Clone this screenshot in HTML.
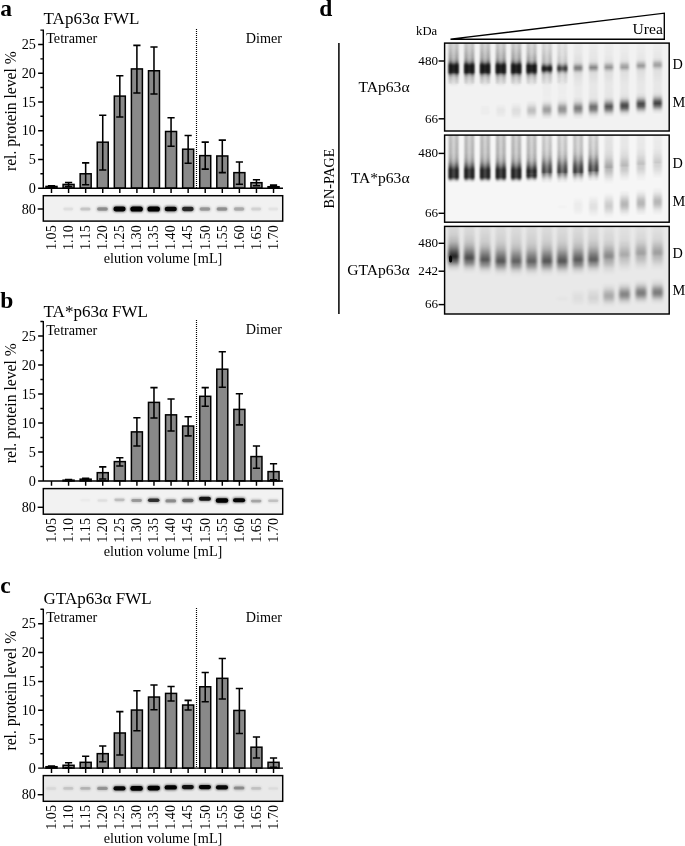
<!DOCTYPE html>
<html><head><meta charset="utf-8"><title>figure</title>
<style>html,body{margin:0;padding:0;background:#fff;overflow:hidden;}svg{display:block;will-change:transform;opacity:0.999;}text{font-family:"Liberation Serif",serif;fill:#000;}</style>
</head><body>
<svg width="685" height="846" viewBox="0 0 685 846">
<defs>
<filter id="bl1" x="-50%" y="-100%" width="200%" height="300%"><feGaussianBlur stdDeviation="0.7"/></filter>
<filter id="bl2" x="-50%" y="-100%" width="200%" height="300%"><feGaussianBlur stdDeviation="1.3"/></filter>
<filter id="bl3" x="-50%" y="-100%" width="200%" height="300%"><feGaussianBlur stdDeviation="1.9"/></filter>
<filter id="lane" x="-50%" y="-5%" width="200%" height="110%"><feGaussianBlur stdDeviation="1.25 0.6"/></filter>
<filter id="lane3" x="-50%" y="-5%" width="200%" height="110%"><feGaussianBlur stdDeviation="1.7 0.8"/></filter>
<filter id="edge" x="-150%" y="-5%" width="400%" height="110%"><feGaussianBlur stdDeviation="0.9 0.6"/></filter>
<linearGradient id="smearUp" x1="0" y1="0" x2="0" y2="1"><stop offset="0" stop-color="#000" stop-opacity="0.25"/><stop offset="0.55" stop-color="#000" stop-opacity="0.5"/><stop offset="1" stop-color="#000" stop-opacity="1"/></linearGradient>
<linearGradient id="smearDn" x1="0" y1="0" x2="0" y2="1"><stop offset="0" stop-color="#000" stop-opacity="1"/><stop offset="0.5" stop-color="#000" stop-opacity="0.5"/><stop offset="1" stop-color="#000" stop-opacity="0"/></linearGradient>
</defs>
<rect width="685" height="846" fill="#fff"/>
<text x="0.3" y="15.5" font-size="23.5" font-weight="bold">a</text>
<text x="43.6" y="23.9" font-size="17">TAp63α FWL</text>
<text x="46.2" y="43.1" font-size="14.2">Tetramer</text>
<text x="282" y="42.9" font-size="14.2" text-anchor="end">Dimer</text>
<text transform="translate(15.6,111.1) rotate(-90)" font-size="15.65" text-anchor="middle">rel. protein level %</text>
<line x1="196.5" y1="29" x2="196.5" y2="188.2" stroke="#000" stroke-width="1.15" stroke-dasharray="1 1"/>
<rect x="46.00" y="186.43" width="11.00" height="1.72" fill="#898989" stroke="#000" stroke-width="1.5"/>
<path d="M51.50 185.74V187.12M47.90 185.74H55.10M47.90 187.12H55.10" stroke="#000" stroke-width="1.55" fill="none"/>
<rect x="63.08" y="184.42" width="11.00" height="3.73" fill="#898989" stroke="#000" stroke-width="1.5"/>
<path d="M68.58 182.40V186.43M64.98 182.40H72.18M64.98 186.43H72.18" stroke="#000" stroke-width="1.55" fill="none"/>
<rect x="80.16" y="173.78" width="11.00" height="14.37" fill="#898989" stroke="#000" stroke-width="1.5"/>
<path d="M85.66 162.87V184.70M82.06 162.87H89.26M82.06 184.70H89.26" stroke="#000" stroke-width="1.55" fill="none"/>
<rect x="97.24" y="142.18" width="11.00" height="45.97" fill="#898989" stroke="#000" stroke-width="1.5"/>
<path d="M102.74 115.18V170.05M99.14 115.18H106.34M99.14 170.05H106.34" stroke="#000" stroke-width="1.55" fill="none"/>
<rect x="114.32" y="96.10" width="11.00" height="92.05" fill="#898989" stroke="#000" stroke-width="1.5"/>
<path d="M119.82 75.70V117.07M116.22 75.70H123.42M116.22 117.07H123.42" stroke="#000" stroke-width="1.55" fill="none"/>
<rect x="131.40" y="68.92" width="11.00" height="119.23" fill="#898989" stroke="#000" stroke-width="1.5"/>
<path d="M136.90 45.36V93.05M133.30 45.36H140.50M133.30 93.05H140.50" stroke="#000" stroke-width="1.55" fill="none"/>
<rect x="148.48" y="70.76" width="11.00" height="117.39" fill="#898989" stroke="#000" stroke-width="1.5"/>
<path d="M153.98 46.91V94.03M150.38 46.91H157.58M150.38 94.03H157.58" stroke="#000" stroke-width="1.55" fill="none"/>
<rect x="165.56" y="131.49" width="11.00" height="56.66" fill="#898989" stroke="#000" stroke-width="1.5"/>
<path d="M171.06 117.70V146.15M167.46 117.70H174.66M167.46 146.15H174.66" stroke="#000" stroke-width="1.55" fill="none"/>
<rect x="182.64" y="149.19" width="11.00" height="38.96" fill="#898989" stroke="#000" stroke-width="1.5"/>
<path d="M188.14 135.40V163.27M184.54 135.40H191.74M184.54 163.27H191.74" stroke="#000" stroke-width="1.55" fill="none"/>
<rect x="199.72" y="155.63" width="11.00" height="32.52" fill="#898989" stroke="#000" stroke-width="1.5"/>
<path d="M205.22 142.12V169.13M201.62 142.12H208.82M201.62 169.13H208.82" stroke="#000" stroke-width="1.55" fill="none"/>
<rect x="216.80" y="155.97" width="11.00" height="32.18" fill="#898989" stroke="#000" stroke-width="1.5"/>
<path d="M222.30 140.11V172.64M218.70 140.11H225.90M218.70 172.64H225.90" stroke="#000" stroke-width="1.55" fill="none"/>
<rect x="233.88" y="172.64" width="11.00" height="15.51" fill="#898989" stroke="#000" stroke-width="1.5"/>
<path d="M239.38 162.01V184.30M235.78 162.01H242.98M235.78 184.30H242.98" stroke="#000" stroke-width="1.55" fill="none"/>
<rect x="250.96" y="182.69" width="11.00" height="5.46" fill="#898989" stroke="#000" stroke-width="1.5"/>
<path d="M256.46 179.70V185.74M252.86 179.70H260.06M252.86 185.74H260.06" stroke="#000" stroke-width="1.55" fill="none"/>
<rect x="268.04" y="186.71" width="11.00" height="1.44" fill="#898989" stroke="#000" stroke-width="1.5"/>
<path d="M273.54 185.10V187.69M269.94 185.10H277.14M269.94 187.69H277.14" stroke="#000" stroke-width="1.55" fill="none"/>
<path d="M43.3 29.58V188.15M42.70 188.15H283.0M38.10 188.15H43.3M40.40 173.78H43.3M38.10 159.42H43.3M40.40 145.06H43.3M38.10 130.69H43.3M40.40 116.33H43.3M38.10 101.96H43.3M40.40 87.59H43.3M38.10 73.23H43.3M40.40 58.87H43.3M38.10 44.50H43.3M40.40 30.13H43.3M51.50 188.15V193.05M68.58 188.15V193.05M85.66 188.15V193.05M102.74 188.15V193.05M119.82 188.15V193.05M136.90 188.15V193.05M153.98 188.15V193.05M171.06 188.15V193.05M188.14 188.15V193.05M205.22 188.15V193.05M222.30 188.15V193.05M239.38 188.15V193.05M256.46 188.15V193.05M273.54 188.15V193.05" stroke="#000" stroke-width="1.45" fill="none"/>
<text x="35.9" y="192.8" font-size="14.2" text-anchor="end">0</text>
<text x="35.9" y="164.1" font-size="14.2" text-anchor="end">5</text>
<text x="35.9" y="135.4" font-size="14.2" text-anchor="end">10</text>
<text x="35.9" y="106.7" font-size="14.2" text-anchor="end">15</text>
<text x="35.9" y="77.9" font-size="14.2" text-anchor="end">20</text>
<text x="35.9" y="49.2" font-size="14.2" text-anchor="end">25</text>
<rect x="43.3" y="195.7" width="239.40" height="25.40" fill="#f1f1f1"/>
<g clip-path="url(#clipa)">
<clipPath id="clipa"><rect x="43.3" y="195.7" width="239.40" height="25.40"/></clipPath>
<rect x="62.71" y="206.79" width="11.13" height="4.42" rx="2.21" fill="#000" opacity="0.03" filter="url(#bl2)"/>
<rect x="63.31" y="207.59" width="9.94" height="2.82" rx="1.41" fill="#000" opacity="0.04" filter="url(#bl1)"/>
<rect x="79.66" y="206.67" width="11.40" height="4.66" rx="2.33" fill="#000" opacity="0.08" filter="url(#bl2)"/>
<rect x="80.26" y="207.47" width="10.21" height="3.06" rx="1.53" fill="#000" opacity="0.11" filter="url(#bl1)"/>
<rect x="96.43" y="206.39" width="12.03" height="5.21" rx="2.61" fill="#000" opacity="0.21" filter="url(#bl2)"/>
<rect x="97.03" y="207.19" width="10.83" height="3.61" rx="1.81" fill="#000" opacity="0.27" filter="url(#bl1)"/>
<rect x="112.83" y="205.79" width="13.38" height="6.41" rx="3.21" fill="#000" opacity="0.48" filter="url(#bl2)"/>
<rect x="113.43" y="206.59" width="12.18" height="4.81" rx="2.41" fill="#000" opacity="0.97" filter="url(#bl1)"/>
<rect x="129.75" y="205.65" width="13.70" height="6.70" rx="3.35" fill="#000" opacity="0.55" filter="url(#bl2)"/>
<rect x="130.35" y="206.45" width="12.50" height="5.10" rx="2.55" fill="#000" opacity="1.00" filter="url(#bl1)"/>
<rect x="146.83" y="205.65" width="13.70" height="6.70" rx="3.35" fill="#000" opacity="0.55" filter="url(#bl2)"/>
<rect x="147.43" y="206.45" width="12.50" height="5.10" rx="2.55" fill="#000" opacity="1.00" filter="url(#bl1)"/>
<rect x="164.11" y="205.83" width="13.29" height="6.34" rx="3.17" fill="#000" opacity="0.47" filter="url(#bl2)"/>
<rect x="164.71" y="206.63" width="12.10" height="4.74" rx="2.37" fill="#000" opacity="0.94" filter="url(#bl1)"/>
<rect x="181.42" y="206.03" width="12.84" height="5.93" rx="2.97" fill="#000" opacity="0.37" filter="url(#bl2)"/>
<rect x="182.02" y="206.83" width="11.64" height="4.33" rx="2.17" fill="#000" opacity="0.75" filter="url(#bl1)"/>
<rect x="198.97" y="206.45" width="11.89" height="5.09" rx="2.55" fill="#000" opacity="0.18" filter="url(#bl2)"/>
<rect x="199.57" y="207.25" width="10.69" height="3.49" rx="1.75" fill="#000" opacity="0.24" filter="url(#bl1)"/>
<rect x="216.01" y="206.42" width="11.97" height="5.16" rx="2.58" fill="#000" opacity="0.20" filter="url(#bl2)"/>
<rect x="216.61" y="207.22" width="10.77" height="3.56" rx="1.78" fill="#000" opacity="0.26" filter="url(#bl1)"/>
<rect x="233.24" y="206.55" width="11.68" height="4.90" rx="2.45" fill="#000" opacity="0.14" filter="url(#bl2)"/>
<rect x="233.84" y="207.35" width="10.48" height="3.30" rx="1.65" fill="#000" opacity="0.18" filter="url(#bl1)"/>
<rect x="250.52" y="206.73" width="11.27" height="4.54" rx="2.27" fill="#000" opacity="0.06" filter="url(#bl2)"/>
<rect x="251.12" y="207.53" width="10.07" height="2.94" rx="1.47" fill="#000" opacity="0.07" filter="url(#bl1)"/>
<rect x="267.69" y="206.80" width="11.11" height="4.40" rx="2.20" fill="#000" opacity="0.02" filter="url(#bl2)"/>
<rect x="268.29" y="207.60" width="9.91" height="2.80" rx="1.40" fill="#000" opacity="0.03" filter="url(#bl1)"/>
</g>
<rect x="43.3" y="195.7" width="239.40" height="25.40" fill="none" stroke="#000" stroke-width="1.45"/>
<line x1="37.70" y1="209.0" x2="43.3" y2="209.0" stroke="#000" stroke-width="1.45"/>
<text x="35.9" y="213.7" font-size="14.2" text-anchor="end">80</text>
<text transform="translate(55.80,225.2) rotate(-90)" font-size="14.2" text-anchor="end">1.05</text>
<text transform="translate(72.88,225.2) rotate(-90)" font-size="14.2" text-anchor="end">1.10</text>
<text transform="translate(89.96,225.2) rotate(-90)" font-size="14.2" text-anchor="end">1.15</text>
<text transform="translate(107.04,225.2) rotate(-90)" font-size="14.2" text-anchor="end">1.20</text>
<text transform="translate(124.12,225.2) rotate(-90)" font-size="14.2" text-anchor="end">1.25</text>
<text transform="translate(141.20,225.2) rotate(-90)" font-size="14.2" text-anchor="end">1.30</text>
<text transform="translate(158.28,225.2) rotate(-90)" font-size="14.2" text-anchor="end">1.35</text>
<text transform="translate(175.36,225.2) rotate(-90)" font-size="14.2" text-anchor="end">1.40</text>
<text transform="translate(192.44,225.2) rotate(-90)" font-size="14.2" text-anchor="end">1.45</text>
<text transform="translate(209.52,225.2) rotate(-90)" font-size="14.2" text-anchor="end">1.50</text>
<text transform="translate(226.60,225.2) rotate(-90)" font-size="14.2" text-anchor="end">1.55</text>
<text transform="translate(243.68,225.2) rotate(-90)" font-size="14.2" text-anchor="end">1.60</text>
<text transform="translate(260.76,225.2) rotate(-90)" font-size="14.2" text-anchor="end">1.65</text>
<text transform="translate(277.84,225.2) rotate(-90)" font-size="14.2" text-anchor="end">1.70</text>
<text x="163.0" y="263.0" font-size="14.25" text-anchor="middle">elution volume [mL]</text>
<text x="0.3" y="307.8" font-size="23.5" font-weight="bold">b</text>
<text x="43.6" y="317.2" font-size="17">TA*p63α FWL</text>
<text x="46.2" y="334.6" font-size="14.2">Tetramer</text>
<text x="282" y="334.4" font-size="14.2" text-anchor="end">Dimer</text>
<text transform="translate(15.6,403.2) rotate(-90)" font-size="15.65" text-anchor="middle">rel. protein level %</text>
<line x1="196.5" y1="320" x2="196.5" y2="480.9" stroke="#000" stroke-width="1.15" stroke-dasharray="1 1"/>
<rect x="63.08" y="480.20" width="11.00" height="0.70" fill="#898989" stroke="#000" stroke-width="1.5"/>
<path d="M68.58 479.63V480.78M64.98 479.63H72.18M64.98 480.78H72.18" stroke="#000" stroke-width="1.55" fill="none"/>
<rect x="80.16" y="479.16" width="11.00" height="1.74" fill="#898989" stroke="#000" stroke-width="1.5"/>
<path d="M85.66 478.29V480.03M82.06 478.29H89.26M82.06 480.03H89.26" stroke="#000" stroke-width="1.55" fill="none"/>
<rect x="97.24" y="472.67" width="11.00" height="8.23" fill="#898989" stroke="#000" stroke-width="1.5"/>
<path d="M102.74 466.88V479.05M99.14 466.88H106.34M99.14 479.05H106.34" stroke="#000" stroke-width="1.55" fill="none"/>
<rect x="114.32" y="461.61" width="11.00" height="19.29" fill="#898989" stroke="#000" stroke-width="1.5"/>
<path d="M119.82 457.72V466.07M116.22 457.72H123.42M116.22 466.07H123.42" stroke="#000" stroke-width="1.55" fill="none"/>
<rect x="131.40" y="431.88" width="11.00" height="49.02" fill="#898989" stroke="#000" stroke-width="1.5"/>
<path d="M136.90 417.69V446.08M133.30 417.69H140.50M133.30 446.08H140.50" stroke="#000" stroke-width="1.55" fill="none"/>
<rect x="148.48" y="402.39" width="11.00" height="78.51" fill="#898989" stroke="#000" stroke-width="1.5"/>
<path d="M153.98 387.62V418.04M150.38 387.62H157.58M150.38 418.04H157.58" stroke="#000" stroke-width="1.55" fill="none"/>
<rect x="165.56" y="414.85" width="11.00" height="66.05" fill="#898989" stroke="#000" stroke-width="1.5"/>
<path d="M171.06 398.91V431.07M167.46 398.91H174.66M167.46 431.07H174.66" stroke="#000" stroke-width="1.55" fill="none"/>
<rect x="182.64" y="426.03" width="11.00" height="54.87" fill="#898989" stroke="#000" stroke-width="1.5"/>
<path d="M188.14 416.76V435.88M184.54 416.76H191.74M184.54 435.88H191.74" stroke="#000" stroke-width="1.55" fill="none"/>
<rect x="199.72" y="396.31" width="11.00" height="84.59" fill="#898989" stroke="#000" stroke-width="1.5"/>
<path d="M205.22 387.62V406.16M201.62 387.62H208.82M201.62 406.16H208.82" stroke="#000" stroke-width="1.55" fill="none"/>
<rect x="216.80" y="369.19" width="11.00" height="111.71" fill="#898989" stroke="#000" stroke-width="1.5"/>
<path d="M222.30 351.81V387.15M218.70 351.81H225.90M218.70 387.15H225.90" stroke="#000" stroke-width="1.55" fill="none"/>
<rect x="233.88" y="409.40" width="11.00" height="71.50" fill="#898989" stroke="#000" stroke-width="1.5"/>
<path d="M239.38 393.76V424.87M235.78 393.76H242.98M235.78 424.87H242.98" stroke="#000" stroke-width="1.55" fill="none"/>
<rect x="250.96" y="456.57" width="11.00" height="24.33" fill="#898989" stroke="#000" stroke-width="1.5"/>
<path d="M256.46 445.96V468.15M252.86 445.96H260.06M252.86 468.15H260.06" stroke="#000" stroke-width="1.55" fill="none"/>
<rect x="268.04" y="471.63" width="11.00" height="9.27" fill="#898989" stroke="#000" stroke-width="1.5"/>
<path d="M273.54 463.81V479.74M269.94 463.81H277.14M269.94 479.74H277.14" stroke="#000" stroke-width="1.55" fill="none"/>
<path d="M43.3 321.01V480.90M42.70 480.90H283.0M38.10 480.90H43.3M40.40 466.41H43.3M38.10 451.93H43.3M40.40 437.44H43.3M38.10 422.96H43.3M40.40 408.47H43.3M38.10 393.99H43.3M40.40 379.50H43.3M38.10 365.02H43.3M40.40 350.53H43.3M38.10 336.05H43.3M40.40 321.56H43.3M51.50 480.90V485.80M68.58 480.90V485.80M85.66 480.90V485.80M102.74 480.90V485.80M119.82 480.90V485.80M136.90 480.90V485.80M153.98 480.90V485.80M171.06 480.90V485.80M188.14 480.90V485.80M205.22 480.90V485.80M222.30 480.90V485.80M239.38 480.90V485.80M256.46 480.90V485.80M273.54 480.90V485.80" stroke="#000" stroke-width="1.45" fill="none"/>
<text x="35.9" y="485.6" font-size="14.2" text-anchor="end">0</text>
<text x="35.9" y="456.6" font-size="14.2" text-anchor="end">5</text>
<text x="35.9" y="427.7" font-size="14.2" text-anchor="end">10</text>
<text x="35.9" y="398.7" font-size="14.2" text-anchor="end">15</text>
<text x="35.9" y="369.7" font-size="14.2" text-anchor="end">20</text>
<text x="35.9" y="340.7" font-size="14.2" text-anchor="end">25</text>
<rect x="43.3" y="488.6" width="239.40" height="25.60" fill="#f2f2f2"/>
<g clip-path="url(#clipb)">
<clipPath id="clipb"><rect x="43.3" y="488.6" width="239.40" height="25.60"/></clipPath>
<rect x="79.83" y="498.22" width="11.05" height="3.96" rx="1.98" fill="#000" opacity="0.01" filter="url(#bl2)"/>
<rect x="80.43" y="499.02" width="9.85" height="2.36" rx="1.18" fill="#000" opacity="0.01" filter="url(#bl1)"/>
<rect x="96.87" y="498.49" width="11.13" height="4.03" rx="2.01" fill="#000" opacity="0.03" filter="url(#bl2)"/>
<rect x="97.47" y="499.29" width="9.94" height="2.43" rx="1.21" fill="#000" opacity="0.04" filter="url(#bl1)"/>
<rect x="113.78" y="497.65" width="11.49" height="4.29" rx="2.15" fill="#000" opacity="0.10" filter="url(#bl2)"/>
<rect x="114.38" y="498.45" width="10.29" height="2.69" rx="1.35" fill="#000" opacity="0.13" filter="url(#bl1)"/>
<rect x="130.67" y="498.11" width="11.86" height="4.58" rx="2.29" fill="#000" opacity="0.18" filter="url(#bl2)"/>
<rect x="131.27" y="498.91" width="10.66" height="2.98" rx="1.49" fill="#000" opacity="0.23" filter="url(#bl1)"/>
<rect x="147.32" y="497.58" width="12.73" height="5.24" rx="2.62" fill="#000" opacity="0.35" filter="url(#bl2)"/>
<rect x="147.92" y="498.38" width="11.53" height="3.64" rx="1.82" fill="#000" opacity="0.70" filter="url(#bl1)"/>
<rect x="164.75" y="498.55" width="12.03" height="4.71" rx="2.35" fill="#000" opacity="0.21" filter="url(#bl2)"/>
<rect x="165.35" y="499.35" width="10.83" height="3.11" rx="1.55" fill="#000" opacity="0.27" filter="url(#bl1)"/>
<rect x="181.57" y="497.85" width="12.54" height="5.10" rx="2.55" fill="#000" opacity="0.31" filter="url(#bl2)"/>
<rect x="182.17" y="498.65" width="11.34" height="3.50" rx="1.75" fill="#000" opacity="0.41" filter="url(#bl1)"/>
<rect x="198.37" y="496.03" width="13.11" height="5.53" rx="2.77" fill="#000" opacity="0.43" filter="url(#bl2)"/>
<rect x="198.97" y="496.83" width="11.91" height="3.93" rx="1.97" fill="#000" opacity="0.86" filter="url(#bl1)"/>
<rect x="215.15" y="497.51" width="13.70" height="5.99" rx="2.99" fill="#000" opacity="0.55" filter="url(#bl2)"/>
<rect x="215.75" y="498.31" width="12.50" height="4.39" rx="2.19" fill="#000" opacity="1.00" filter="url(#bl1)"/>
<rect x="232.42" y="497.35" width="13.32" height="5.70" rx="2.85" fill="#000" opacity="0.47" filter="url(#bl2)"/>
<rect x="233.02" y="498.15" width="12.12" height="4.10" rx="2.05" fill="#000" opacity="0.95" filter="url(#bl1)"/>
<rect x="250.28" y="498.85" width="11.76" height="4.50" rx="2.25" fill="#000" opacity="0.15" filter="url(#bl2)"/>
<rect x="250.88" y="499.65" width="10.56" height="2.90" rx="1.45" fill="#000" opacity="0.20" filter="url(#bl1)"/>
<rect x="267.52" y="498.67" width="11.43" height="4.25" rx="2.13" fill="#000" opacity="0.09" filter="url(#bl2)"/>
<rect x="268.12" y="499.47" width="10.23" height="2.65" rx="1.33" fill="#000" opacity="0.12" filter="url(#bl1)"/>
</g>
<rect x="43.3" y="488.6" width="239.40" height="25.60" fill="none" stroke="#000" stroke-width="1.45"/>
<line x1="37.70" y1="507.3" x2="43.3" y2="507.3" stroke="#000" stroke-width="1.45"/>
<text x="35.9" y="512.0" font-size="14.2" text-anchor="end">80</text>
<text transform="translate(55.80,518.0) rotate(-90)" font-size="14.2" text-anchor="end">1.05</text>
<text transform="translate(72.88,518.0) rotate(-90)" font-size="14.2" text-anchor="end">1.10</text>
<text transform="translate(89.96,518.0) rotate(-90)" font-size="14.2" text-anchor="end">1.15</text>
<text transform="translate(107.04,518.0) rotate(-90)" font-size="14.2" text-anchor="end">1.20</text>
<text transform="translate(124.12,518.0) rotate(-90)" font-size="14.2" text-anchor="end">1.25</text>
<text transform="translate(141.20,518.0) rotate(-90)" font-size="14.2" text-anchor="end">1.30</text>
<text transform="translate(158.28,518.0) rotate(-90)" font-size="14.2" text-anchor="end">1.35</text>
<text transform="translate(175.36,518.0) rotate(-90)" font-size="14.2" text-anchor="end">1.40</text>
<text transform="translate(192.44,518.0) rotate(-90)" font-size="14.2" text-anchor="end">1.45</text>
<text transform="translate(209.52,518.0) rotate(-90)" font-size="14.2" text-anchor="end">1.50</text>
<text transform="translate(226.60,518.0) rotate(-90)" font-size="14.2" text-anchor="end">1.55</text>
<text transform="translate(243.68,518.0) rotate(-90)" font-size="14.2" text-anchor="end">1.60</text>
<text transform="translate(260.76,518.0) rotate(-90)" font-size="14.2" text-anchor="end">1.65</text>
<text transform="translate(277.84,518.0) rotate(-90)" font-size="14.2" text-anchor="end">1.70</text>
<text x="163.0" y="555.8" font-size="14.25" text-anchor="middle">elution volume [mL]</text>
<text x="0.3" y="592.8" font-size="23.5" font-weight="bold">c</text>
<text x="43.6" y="604.4" font-size="17">GTAp63α FWL</text>
<text x="46.2" y="622.2" font-size="14.2">Tetramer</text>
<text x="282" y="622.0" font-size="14.2" text-anchor="end">Dimer</text>
<text transform="translate(15.6,690.6) rotate(-90)" font-size="15.65" text-anchor="middle">rel. protein level %</text>
<line x1="196.5" y1="608" x2="196.5" y2="768.1" stroke="#000" stroke-width="1.15" stroke-dasharray="1 1"/>
<rect x="46.00" y="766.71" width="11.00" height="1.39" fill="#898989" stroke="#000" stroke-width="1.5"/>
<path d="M51.50 766.14V767.29M47.90 766.14H55.10M47.90 767.29H55.10" stroke="#000" stroke-width="1.55" fill="none"/>
<rect x="63.08" y="765.27" width="11.00" height="2.83" fill="#898989" stroke="#000" stroke-width="1.5"/>
<path d="M68.58 762.67V767.87M64.98 762.67H72.18M64.98 767.87H72.18" stroke="#000" stroke-width="1.55" fill="none"/>
<rect x="80.16" y="762.32" width="11.00" height="5.78" fill="#898989" stroke="#000" stroke-width="1.5"/>
<path d="M85.66 756.26V768.10M82.06 756.26H89.26M82.06 768.10H89.26" stroke="#000" stroke-width="1.55" fill="none"/>
<rect x="97.24" y="753.66" width="11.00" height="14.44" fill="#898989" stroke="#000" stroke-width="1.5"/>
<path d="M102.74 746.03V761.75M99.14 746.03H106.34M99.14 761.75H106.34" stroke="#000" stroke-width="1.55" fill="none"/>
<rect x="114.32" y="732.98" width="11.00" height="35.12" fill="#898989" stroke="#000" stroke-width="1.5"/>
<path d="M119.82 711.60V754.93M116.22 711.60H123.42M116.22 754.93H123.42" stroke="#000" stroke-width="1.55" fill="none"/>
<rect x="131.40" y="710.04" width="11.00" height="58.06" fill="#898989" stroke="#000" stroke-width="1.5"/>
<path d="M136.90 690.69V730.84M133.30 690.69H140.50M133.30 730.84H140.50" stroke="#000" stroke-width="1.55" fill="none"/>
<rect x="148.48" y="697.04" width="11.00" height="71.06" fill="#898989" stroke="#000" stroke-width="1.5"/>
<path d="M153.98 684.91V709.75M150.38 684.91H157.58M150.38 709.75H157.58" stroke="#000" stroke-width="1.55" fill="none"/>
<rect x="165.56" y="693.40" width="11.00" height="74.70" fill="#898989" stroke="#000" stroke-width="1.5"/>
<path d="M171.06 686.47V700.91M167.46 686.47H174.66M167.46 700.91H174.66" stroke="#000" stroke-width="1.55" fill="none"/>
<rect x="182.64" y="705.02" width="11.00" height="63.08" fill="#898989" stroke="#000" stroke-width="1.5"/>
<path d="M188.14 700.39V709.93M184.54 700.39H191.74M184.54 709.93H191.74" stroke="#000" stroke-width="1.55" fill="none"/>
<rect x="199.72" y="686.76" width="11.00" height="81.34" fill="#898989" stroke="#000" stroke-width="1.5"/>
<path d="M205.22 672.49V701.78M201.62 672.49H208.82M201.62 701.78H208.82" stroke="#000" stroke-width="1.55" fill="none"/>
<rect x="216.80" y="678.33" width="11.00" height="89.77" fill="#898989" stroke="#000" stroke-width="1.5"/>
<path d="M222.30 658.45V699.01M218.70 658.45H225.90M218.70 699.01H225.90" stroke="#000" stroke-width="1.55" fill="none"/>
<rect x="233.88" y="710.45" width="11.00" height="57.65" fill="#898989" stroke="#000" stroke-width="1.5"/>
<path d="M239.38 688.49V733.55M235.78 688.49H242.98M235.78 733.55H242.98" stroke="#000" stroke-width="1.55" fill="none"/>
<rect x="250.96" y="747.19" width="11.00" height="20.91" fill="#898989" stroke="#000" stroke-width="1.5"/>
<path d="M256.46 736.96V758.05M252.86 736.96H260.06M252.86 758.05H260.06" stroke="#000" stroke-width="1.55" fill="none"/>
<rect x="268.04" y="762.32" width="11.00" height="5.78" fill="#898989" stroke="#000" stroke-width="1.5"/>
<path d="M273.54 758.05V767.29M269.94 758.05H277.14M269.94 767.29H277.14" stroke="#000" stroke-width="1.55" fill="none"/>
<path d="M43.3 608.68V768.10M42.70 768.10H283.0M38.10 768.10H43.3M40.40 753.66H43.3M38.10 739.22H43.3M40.40 724.77H43.3M38.10 710.33H43.3M40.40 695.89H43.3M38.10 681.45H43.3M40.40 667.00H43.3M38.10 652.56H43.3M40.40 638.12H43.3M38.10 623.67H43.3M40.40 609.23H43.3M51.50 768.10V773.00M68.58 768.10V773.00M85.66 768.10V773.00M102.74 768.10V773.00M119.82 768.10V773.00M136.90 768.10V773.00M153.98 768.10V773.00M171.06 768.10V773.00M188.14 768.10V773.00M205.22 768.10V773.00M222.30 768.10V773.00M239.38 768.10V773.00M256.46 768.10V773.00M273.54 768.10V773.00" stroke="#000" stroke-width="1.45" fill="none"/>
<text x="35.9" y="772.8" font-size="14.2" text-anchor="end">0</text>
<text x="35.9" y="743.9" font-size="14.2" text-anchor="end">5</text>
<text x="35.9" y="715.0" font-size="14.2" text-anchor="end">10</text>
<text x="35.9" y="686.1" font-size="14.2" text-anchor="end">15</text>
<text x="35.9" y="657.3" font-size="14.2" text-anchor="end">20</text>
<text x="35.9" y="628.4" font-size="14.2" text-anchor="end">25</text>
<rect x="43.3" y="775.6" width="239.40" height="25.70" fill="#e9e9e9"/>
<g clip-path="url(#clipc)">
<clipPath id="clipc"><rect x="43.3" y="775.6" width="239.40" height="25.70"/></clipPath>
<rect x="45.63" y="786.33" width="11.13" height="4.14" rx="2.07" fill="#000" opacity="0.03" filter="url(#bl2)"/>
<rect x="46.23" y="787.13" width="9.94" height="2.54" rx="1.27" fill="#000" opacity="0.04" filter="url(#bl1)"/>
<rect x="62.62" y="786.26" width="11.32" height="4.29" rx="2.14" fill="#000" opacity="0.07" filter="url(#bl2)"/>
<rect x="63.22" y="787.06" width="10.12" height="2.69" rx="1.34" fill="#000" opacity="0.09" filter="url(#bl1)"/>
<rect x="79.59" y="786.17" width="11.54" height="4.46" rx="2.23" fill="#000" opacity="0.11" filter="url(#bl2)"/>
<rect x="80.19" y="786.97" width="10.34" height="2.86" rx="1.43" fill="#000" opacity="0.14" filter="url(#bl1)"/>
<rect x="96.49" y="786.03" width="11.89" height="4.74" rx="2.37" fill="#000" opacity="0.18" filter="url(#bl2)"/>
<rect x="97.09" y="786.83" width="10.69" height="3.14" rx="1.57" fill="#000" opacity="0.24" filter="url(#bl1)"/>
<rect x="112.87" y="785.47" width="13.29" height="5.87" rx="2.93" fill="#000" opacity="0.47" filter="url(#bl2)"/>
<rect x="113.47" y="786.27" width="12.10" height="4.27" rx="2.13" fill="#000" opacity="0.94" filter="url(#bl1)"/>
<rect x="129.75" y="785.31" width="13.70" height="6.19" rx="3.09" fill="#000" opacity="0.55" filter="url(#bl2)"/>
<rect x="130.35" y="786.11" width="12.50" height="4.59" rx="2.29" fill="#000" opacity="1.00" filter="url(#bl1)"/>
<rect x="146.83" y="785.01" width="13.70" height="6.19" rx="3.09" fill="#000" opacity="0.55" filter="url(#bl2)"/>
<rect x="147.43" y="785.81" width="12.50" height="4.59" rx="2.29" fill="#000" opacity="1.00" filter="url(#bl1)"/>
<rect x="164.02" y="784.39" width="13.48" height="6.02" rx="3.01" fill="#000" opacity="0.51" filter="url(#bl2)"/>
<rect x="164.62" y="785.19" width="12.28" height="4.42" rx="2.21" fill="#000" opacity="1.00" filter="url(#bl1)"/>
<rect x="181.26" y="784.22" width="13.16" height="5.76" rx="2.88" fill="#000" opacity="0.44" filter="url(#bl2)"/>
<rect x="181.86" y="785.02" width="11.96" height="4.16" rx="2.08" fill="#000" opacity="0.88" filter="url(#bl1)"/>
<rect x="198.23" y="784.13" width="13.38" height="5.93" rx="2.97" fill="#000" opacity="0.48" filter="url(#bl2)"/>
<rect x="198.83" y="784.93" width="12.18" height="4.33" rx="2.17" fill="#000" opacity="0.97" filter="url(#bl1)"/>
<rect x="215.34" y="784.46" width="13.32" height="5.89" rx="2.94" fill="#000" opacity="0.47" filter="url(#bl2)"/>
<rect x="215.94" y="785.26" width="12.12" height="4.29" rx="2.14" fill="#000" opacity="0.95" filter="url(#bl1)"/>
<rect x="233.09" y="785.60" width="11.97" height="4.81" rx="2.40" fill="#000" opacity="0.20" filter="url(#bl2)"/>
<rect x="233.69" y="786.40" width="10.77" height="3.21" rx="1.60" fill="#000" opacity="0.26" filter="url(#bl1)"/>
<rect x="250.47" y="786.23" width="11.38" height="4.33" rx="2.17" fill="#000" opacity="0.08" filter="url(#bl2)"/>
<rect x="251.07" y="787.03" width="10.18" height="2.73" rx="1.37" fill="#000" opacity="0.10" filter="url(#bl1)"/>
<rect x="267.69" y="786.34" width="11.11" height="4.12" rx="2.06" fill="#000" opacity="0.02" filter="url(#bl2)"/>
<rect x="268.29" y="787.14" width="9.91" height="2.52" rx="1.26" fill="#000" opacity="0.03" filter="url(#bl1)"/>
</g>
<rect x="43.3" y="775.6" width="239.40" height="25.70" fill="none" stroke="#000" stroke-width="1.45"/>
<line x1="37.70" y1="794.7" x2="43.3" y2="794.7" stroke="#000" stroke-width="1.45"/>
<text x="35.9" y="799.4" font-size="14.2" text-anchor="end">80</text>
<text transform="translate(55.80,805.0) rotate(-90)" font-size="14.2" text-anchor="end">1.05</text>
<text transform="translate(72.88,805.0) rotate(-90)" font-size="14.2" text-anchor="end">1.10</text>
<text transform="translate(89.96,805.0) rotate(-90)" font-size="14.2" text-anchor="end">1.15</text>
<text transform="translate(107.04,805.0) rotate(-90)" font-size="14.2" text-anchor="end">1.20</text>
<text transform="translate(124.12,805.0) rotate(-90)" font-size="14.2" text-anchor="end">1.25</text>
<text transform="translate(141.20,805.0) rotate(-90)" font-size="14.2" text-anchor="end">1.30</text>
<text transform="translate(158.28,805.0) rotate(-90)" font-size="14.2" text-anchor="end">1.35</text>
<text transform="translate(175.36,805.0) rotate(-90)" font-size="14.2" text-anchor="end">1.40</text>
<text transform="translate(192.44,805.0) rotate(-90)" font-size="14.2" text-anchor="end">1.45</text>
<text transform="translate(209.52,805.0) rotate(-90)" font-size="14.2" text-anchor="end">1.50</text>
<text transform="translate(226.60,805.0) rotate(-90)" font-size="14.2" text-anchor="end">1.55</text>
<text transform="translate(243.68,805.0) rotate(-90)" font-size="14.2" text-anchor="end">1.60</text>
<text transform="translate(260.76,805.0) rotate(-90)" font-size="14.2" text-anchor="end">1.65</text>
<text transform="translate(277.84,805.0) rotate(-90)" font-size="14.2" text-anchor="end">1.70</text>
<text x="163.0" y="842.8" font-size="14.25" text-anchor="middle">elution volume [mL]</text>
<text x="319.3" y="16.3" font-size="23.5" font-weight="bold">d</text>
<text x="416.1" y="35.1" font-size="12.6">kDa</text>
<path d="M450.5 39.2L664.3 13.2V39.2Z" fill="#fff" stroke="#000" stroke-width="1.35" stroke-linejoin="miter"/>
<text x="662.8" y="34.3" font-size="15.6" text-anchor="end">Urea</text>
<line x1="338.9" y1="43" x2="338.9" y2="314" stroke="#000" stroke-width="1.5"/>
<text transform="translate(333.6,178.5) rotate(-90)" font-size="14.1" text-anchor="middle">BN-PAGE</text>
<clipPath id="gclip0"><rect x="444.6" y="43.1" width="224.60" height="87.90"/></clipPath>
<rect x="444.6" y="43.1" width="224.60" height="87.90" fill="#f2f2f2"/>
<g clip-path="url(#gclip0)">
<linearGradient id="L0_0" gradientUnits="userSpaceOnUse" x1="0" y1="43.1" x2="0" y2="131.0"><stop offset="0" stop-opacity=".14"/><stop offset=".056" stop-opacity=".16"/><stop offset=".148" stop-opacity=".24"/><stop offset=".167" stop-opacity=".26"/><stop offset=".185" stop-opacity=".3"/><stop offset=".204" stop-opacity=".38"/><stop offset=".222" stop-opacity=".54"/><stop offset=".241" stop-opacity=".82"/><stop offset=".259" stop-opacity="1"/><stop offset=".315" stop-opacity="1"/><stop offset=".333" stop-opacity=".93"/><stop offset=".352" stop-opacity=".53"/><stop offset=".37" stop-opacity=".31"/><stop offset=".389" stop-opacity=".2"/><stop offset=".426" stop-opacity=".13"/><stop offset=".444" stop-opacity=".11"/><stop offset=".463" stop-opacity=".06"/><stop offset=".5" stop-opacity="0"/><stop offset="1" stop-opacity="0"/></linearGradient>
<rect x="449.20" y="40.10" width="8.8" height="93.90" fill="url(#L0_0)" opacity="0.85" filter="url(#lane)"/>
<rect x="448.65" y="40.10" width="2.5" height="43.90" fill="url(#L0_0)" opacity="0.9" filter="url(#edge)"/>
<rect x="456.05" y="40.10" width="2.5" height="43.90" fill="url(#L0_0)" opacity="0.9" filter="url(#edge)"/>
<linearGradient id="L0_1" gradientUnits="userSpaceOnUse" x1="0" y1="43.1" x2="0" y2="131.0"><stop offset="0" stop-opacity=".14"/><stop offset=".056" stop-opacity=".16"/><stop offset=".148" stop-opacity=".24"/><stop offset=".167" stop-opacity=".26"/><stop offset=".185" stop-opacity=".3"/><stop offset=".204" stop-opacity=".38"/><stop offset=".222" stop-opacity=".54"/><stop offset=".241" stop-opacity=".82"/><stop offset=".259" stop-opacity="1"/><stop offset=".315" stop-opacity="1"/><stop offset=".333" stop-opacity=".93"/><stop offset=".352" stop-opacity=".53"/><stop offset=".37" stop-opacity=".31"/><stop offset=".389" stop-opacity=".2"/><stop offset=".426" stop-opacity=".13"/><stop offset=".444" stop-opacity=".11"/><stop offset=".463" stop-opacity=".06"/><stop offset=".5" stop-opacity="0"/><stop offset="1" stop-opacity="0"/></linearGradient>
<rect x="464.90" y="40.10" width="8.8" height="93.90" fill="url(#L0_1)" opacity="0.85" filter="url(#lane)"/>
<rect x="464.35" y="40.10" width="2.5" height="43.90" fill="url(#L0_1)" opacity="0.9" filter="url(#edge)"/>
<rect x="471.75" y="40.10" width="2.5" height="43.90" fill="url(#L0_1)" opacity="0.9" filter="url(#edge)"/>
<linearGradient id="L0_2" gradientUnits="userSpaceOnUse" x1="0" y1="43.1" x2="0" y2="131.0"><stop offset="0" stop-opacity=".14"/><stop offset=".056" stop-opacity=".16"/><stop offset=".148" stop-opacity=".24"/><stop offset=".167" stop-opacity=".26"/><stop offset=".185" stop-opacity=".3"/><stop offset=".204" stop-opacity=".38"/><stop offset=".222" stop-opacity=".54"/><stop offset=".241" stop-opacity=".82"/><stop offset=".259" stop-opacity="1"/><stop offset=".315" stop-opacity="1"/><stop offset=".333" stop-opacity=".93"/><stop offset=".352" stop-opacity=".53"/><stop offset=".37" stop-opacity=".31"/><stop offset=".389" stop-opacity=".2"/><stop offset=".426" stop-opacity=".13"/><stop offset=".444" stop-opacity=".11"/><stop offset=".463" stop-opacity=".06"/><stop offset=".5" stop-opacity="0"/><stop offset=".704" stop-opacity="0"/><stop offset=".722" stop-opacity=".02"/><stop offset=".796" stop-opacity=".03"/><stop offset=".833" stop-opacity="0"/><stop offset="1" stop-opacity="0"/></linearGradient>
<rect x="480.70" y="40.10" width="8.8" height="93.90" fill="url(#L0_2)" opacity="0.85" filter="url(#lane)"/>
<rect x="480.15" y="40.10" width="2.5" height="43.90" fill="url(#L0_2)" opacity="0.9" filter="url(#edge)"/>
<rect x="487.55" y="40.10" width="2.5" height="43.90" fill="url(#L0_2)" opacity="0.9" filter="url(#edge)"/>
<linearGradient id="L0_3" gradientUnits="userSpaceOnUse" x1="0" y1="43.1" x2="0" y2="131.0"><stop offset="0" stop-opacity=".14"/><stop offset=".056" stop-opacity=".16"/><stop offset=".148" stop-opacity=".24"/><stop offset=".167" stop-opacity=".26"/><stop offset=".185" stop-opacity=".3"/><stop offset=".204" stop-opacity=".38"/><stop offset=".222" stop-opacity=".54"/><stop offset=".241" stop-opacity=".82"/><stop offset=".259" stop-opacity="1"/><stop offset=".315" stop-opacity="1"/><stop offset=".333" stop-opacity=".93"/><stop offset=".352" stop-opacity=".53"/><stop offset=".37" stop-opacity=".31"/><stop offset=".389" stop-opacity=".2"/><stop offset=".426" stop-opacity=".13"/><stop offset=".444" stop-opacity=".11"/><stop offset=".463" stop-opacity=".06"/><stop offset=".5" stop-opacity="0"/><stop offset=".685" stop-opacity="0"/><stop offset=".759" stop-opacity=".06"/><stop offset=".815" stop-opacity=".04"/><stop offset=".852" stop-opacity="0"/><stop offset="1" stop-opacity="0"/></linearGradient>
<rect x="496.40" y="40.10" width="8.8" height="93.90" fill="url(#L0_3)" opacity="0.85" filter="url(#lane)"/>
<rect x="495.85" y="40.10" width="2.5" height="43.90" fill="url(#L0_3)" opacity="0.9" filter="url(#edge)"/>
<rect x="503.25" y="40.10" width="2.5" height="43.90" fill="url(#L0_3)" opacity="0.9" filter="url(#edge)"/>
<linearGradient id="L0_4" gradientUnits="userSpaceOnUse" x1="0" y1="43.1" x2="0" y2="131.0"><stop offset="0" stop-opacity=".14"/><stop offset=".056" stop-opacity=".16"/><stop offset=".148" stop-opacity=".24"/><stop offset=".167" stop-opacity=".26"/><stop offset=".185" stop-opacity=".3"/><stop offset=".204" stop-opacity=".38"/><stop offset=".222" stop-opacity=".54"/><stop offset=".241" stop-opacity=".82"/><stop offset=".259" stop-opacity="1"/><stop offset=".315" stop-opacity="1"/><stop offset=".333" stop-opacity=".93"/><stop offset=".352" stop-opacity=".53"/><stop offset=".37" stop-opacity=".31"/><stop offset=".389" stop-opacity=".2"/><stop offset=".426" stop-opacity=".13"/><stop offset=".444" stop-opacity=".11"/><stop offset=".463" stop-opacity=".06"/><stop offset=".5" stop-opacity="0"/><stop offset=".667" stop-opacity="0"/><stop offset=".722" stop-opacity=".05"/><stop offset=".759" stop-opacity=".1"/><stop offset=".796" stop-opacity=".09"/><stop offset=".87" stop-opacity="0"/><stop offset="1" stop-opacity="0"/></linearGradient>
<rect x="511.80" y="40.10" width="8.8" height="93.90" fill="url(#L0_4)" opacity="0.85" filter="url(#lane)"/>
<rect x="511.25" y="40.10" width="2.5" height="43.90" fill="url(#L0_4)" opacity="0.9" filter="url(#edge)"/>
<rect x="518.65" y="40.10" width="2.5" height="43.90" fill="url(#L0_4)" opacity="0.9" filter="url(#edge)"/>
<linearGradient id="L0_5" gradientUnits="userSpaceOnUse" x1="0" y1="43.1" x2="0" y2="131.0"><stop offset="0" stop-opacity=".12"/><stop offset=".111" stop-opacity=".17"/><stop offset=".185" stop-opacity=".26"/><stop offset=".204" stop-opacity=".33"/><stop offset=".222" stop-opacity=".47"/><stop offset=".241" stop-opacity=".72"/><stop offset=".259" stop-opacity="1"/><stop offset=".315" stop-opacity="1"/><stop offset=".333" stop-opacity=".82"/><stop offset=".352" stop-opacity=".47"/><stop offset=".37" stop-opacity=".27"/><stop offset=".389" stop-opacity=".18"/><stop offset=".426" stop-opacity=".11"/><stop offset=".444" stop-opacity=".09"/><stop offset=".481" stop-opacity=".02"/><stop offset=".5" stop-opacity="0"/><stop offset=".648" stop-opacity="0"/><stop offset=".685" stop-opacity=".05"/><stop offset=".704" stop-opacity=".09"/><stop offset=".741" stop-opacity=".21"/><stop offset=".759" stop-opacity=".25"/><stop offset=".778" stop-opacity=".24"/><stop offset=".796" stop-opacity=".2"/><stop offset=".833" stop-opacity=".07"/><stop offset=".87" stop-opacity="0"/><stop offset="1" stop-opacity="0"/></linearGradient>
<rect x="527.20" y="40.10" width="8.8" height="93.90" fill="url(#L0_5)" opacity="0.85" filter="url(#lane)"/>
<rect x="526.65" y="40.10" width="2.5" height="43.90" fill="url(#L0_5)" opacity="0.9" filter="url(#edge)"/>
<rect x="534.05" y="40.10" width="2.5" height="43.90" fill="url(#L0_5)" opacity="0.9" filter="url(#edge)"/>
<linearGradient id="L0_6" gradientUnits="userSpaceOnUse" x1="0" y1="43.1" x2="0" y2="131.0"><stop offset="0" stop-opacity=".09"/><stop offset=".056" stop-opacity=".1"/><stop offset=".204" stop-opacity=".19"/><stop offset=".222" stop-opacity=".24"/><stop offset=".241" stop-opacity=".38"/><stop offset=".259" stop-opacity=".63"/><stop offset=".278" stop-opacity=".91"/><stop offset=".296" stop-opacity="1"/><stop offset=".315" stop-opacity=".75"/><stop offset=".333" stop-opacity=".42"/><stop offset=".352" stop-opacity=".22"/><stop offset=".37" stop-opacity=".15"/><stop offset=".444" stop-opacity=".08"/><stop offset=".481" stop-opacity=".03"/><stop offset=".63" stop-opacity=".02"/><stop offset=".648" stop-opacity=".03"/><stop offset=".667" stop-opacity=".06"/><stop offset=".685" stop-opacity=".11"/><stop offset=".741" stop-opacity=".38"/><stop offset=".759" stop-opacity=".41"/><stop offset=".778" stop-opacity=".37"/><stop offset=".833" stop-opacity=".09"/><stop offset=".87" stop-opacity="0"/><stop offset="1" stop-opacity="0"/></linearGradient>
<rect x="542.50" y="40.10" width="8.8" height="93.90" fill="url(#L0_6)" opacity="0.85" filter="url(#lane)"/>
<rect x="541.95" y="40.10" width="2.5" height="43.70" fill="url(#L0_6)" opacity="0.9" filter="url(#edge)"/>
<rect x="549.35" y="40.10" width="2.5" height="43.70" fill="url(#L0_6)" opacity="0.9" filter="url(#edge)"/>
<linearGradient id="L0_7" gradientUnits="userSpaceOnUse" x1="0" y1="43.1" x2="0" y2="131.0"><stop offset="0" stop-opacity=".06"/><stop offset=".13" stop-opacity=".09"/><stop offset=".204" stop-opacity=".13"/><stop offset=".222" stop-opacity=".18"/><stop offset=".241" stop-opacity=".3"/><stop offset=".278" stop-opacity=".7"/><stop offset=".296" stop-opacity=".74"/><stop offset=".333" stop-opacity=".28"/><stop offset=".352" stop-opacity=".15"/><stop offset=".37" stop-opacity=".11"/><stop offset=".407" stop-opacity=".08"/><stop offset=".426" stop-opacity=".08"/><stop offset=".481" stop-opacity=".03"/><stop offset=".593" stop-opacity=".02"/><stop offset=".63" stop-opacity=".03"/><stop offset=".648" stop-opacity=".05"/><stop offset=".667" stop-opacity=".09"/><stop offset=".685" stop-opacity=".16"/><stop offset=".722" stop-opacity=".38"/><stop offset=".741" stop-opacity=".46"/><stop offset=".759" stop-opacity=".46"/><stop offset=".778" stop-opacity=".4"/><stop offset=".815" stop-opacity=".17"/><stop offset=".833" stop-opacity=".08"/><stop offset=".852" stop-opacity=".03"/><stop offset=".87" stop-opacity="0"/><stop offset="1" stop-opacity="0"/></linearGradient>
<rect x="557.90" y="40.10" width="8.8" height="93.90" fill="url(#L0_7)" opacity="0.85" filter="url(#lane)"/>
<rect x="557.35" y="40.10" width="2.5" height="43.40" fill="url(#L0_7)" opacity="0.9" filter="url(#edge)"/>
<rect x="564.75" y="40.10" width="2.5" height="43.40" fill="url(#L0_7)" opacity="0.9" filter="url(#edge)"/>
<linearGradient id="L0_8" gradientUnits="userSpaceOnUse" x1="0" y1="43.1" x2="0" y2="131.0"><stop offset="0" stop-opacity=".04"/><stop offset=".093" stop-opacity=".05"/><stop offset=".185" stop-opacity=".08"/><stop offset=".204" stop-opacity=".1"/><stop offset=".222" stop-opacity=".14"/><stop offset=".241" stop-opacity=".25"/><stop offset=".259" stop-opacity=".42"/><stop offset=".278" stop-opacity=".55"/><stop offset=".296" stop-opacity=".53"/><stop offset=".315" stop-opacity=".34"/><stop offset=".333" stop-opacity=".18"/><stop offset=".352" stop-opacity=".11"/><stop offset=".389" stop-opacity=".08"/><stop offset=".5" stop-opacity=".04"/><stop offset=".611" stop-opacity=".04"/><stop offset=".648" stop-opacity=".09"/><stop offset=".667" stop-opacity=".15"/><stop offset=".685" stop-opacity=".25"/><stop offset=".722" stop-opacity=".51"/><stop offset=".741" stop-opacity=".58"/><stop offset=".759" stop-opacity=".53"/><stop offset=".778" stop-opacity=".42"/><stop offset=".815" stop-opacity=".15"/><stop offset=".833" stop-opacity=".07"/><stop offset=".87" stop-opacity="0"/><stop offset="1" stop-opacity="0"/></linearGradient>
<rect x="573.70" y="40.10" width="8.8" height="93.90" fill="url(#L0_8)" opacity="0.85" filter="url(#lane)"/>
<linearGradient id="L0_9" gradientUnits="userSpaceOnUse" x1="0" y1="43.1" x2="0" y2="131.0"><stop offset="0" stop-opacity=".03"/><stop offset=".167" stop-opacity=".06"/><stop offset=".204" stop-opacity=".08"/><stop offset=".222" stop-opacity=".14"/><stop offset=".241" stop-opacity=".25"/><stop offset=".259" stop-opacity=".4"/><stop offset=".278" stop-opacity=".52"/><stop offset=".296" stop-opacity=".42"/><stop offset=".315" stop-opacity=".25"/><stop offset=".333" stop-opacity=".14"/><stop offset=".352" stop-opacity=".1"/><stop offset=".481" stop-opacity=".05"/><stop offset=".611" stop-opacity=".06"/><stop offset=".63" stop-opacity=".08"/><stop offset=".648" stop-opacity=".13"/><stop offset=".667" stop-opacity=".23"/><stop offset=".685" stop-opacity=".36"/><stop offset=".704" stop-opacity=".51"/><stop offset=".722" stop-opacity=".63"/><stop offset=".741" stop-opacity=".62"/><stop offset=".759" stop-opacity=".55"/><stop offset=".796" stop-opacity=".24"/><stop offset=".815" stop-opacity=".12"/><stop offset=".833" stop-opacity=".05"/><stop offset=".87" stop-opacity="0"/><stop offset="1" stop-opacity="0"/></linearGradient>
<rect x="589.00" y="40.10" width="8.8" height="93.90" fill="url(#L0_9)" opacity="0.85" filter="url(#lane)"/>
<linearGradient id="L0_10" gradientUnits="userSpaceOnUse" x1="0" y1="43.1" x2="0" y2="131.0"><stop offset="0" stop-opacity=".03"/><stop offset=".13" stop-opacity=".04"/><stop offset=".185" stop-opacity=".06"/><stop offset=".204" stop-opacity=".08"/><stop offset=".222" stop-opacity=".14"/><stop offset=".259" stop-opacity=".38"/><stop offset=".278" stop-opacity=".45"/><stop offset=".296" stop-opacity=".33"/><stop offset=".315" stop-opacity=".19"/><stop offset=".333" stop-opacity=".12"/><stop offset=".352" stop-opacity=".09"/><stop offset=".481" stop-opacity=".05"/><stop offset=".593" stop-opacity=".06"/><stop offset=".611" stop-opacity=".07"/><stop offset=".63" stop-opacity=".12"/><stop offset=".648" stop-opacity=".2"/><stop offset=".667" stop-opacity=".33"/><stop offset=".704" stop-opacity=".67"/><stop offset=".722" stop-opacity=".76"/><stop offset=".741" stop-opacity=".69"/><stop offset=".759" stop-opacity=".56"/><stop offset=".778" stop-opacity=".37"/><stop offset=".796" stop-opacity=".2"/><stop offset=".815" stop-opacity=".09"/><stop offset=".833" stop-opacity=".03"/><stop offset=".852" stop-opacity="0"/><stop offset="1" stop-opacity="0"/></linearGradient>
<rect x="604.40" y="40.10" width="8.8" height="93.90" fill="url(#L0_10)" opacity="0.85" filter="url(#lane)"/>
<linearGradient id="L0_11" gradientUnits="userSpaceOnUse" x1="0" y1="43.1" x2="0" y2="131.0"><stop offset="0" stop-opacity=".02"/><stop offset=".167" stop-opacity=".05"/><stop offset=".185" stop-opacity=".06"/><stop offset=".204" stop-opacity=".09"/><stop offset=".222" stop-opacity=".16"/><stop offset=".241" stop-opacity=".28"/><stop offset=".259" stop-opacity=".37"/><stop offset=".278" stop-opacity=".4"/><stop offset=".315" stop-opacity=".15"/><stop offset=".333" stop-opacity=".1"/><stop offset=".352" stop-opacity=".08"/><stop offset=".5" stop-opacity=".05"/><stop offset=".574" stop-opacity=".06"/><stop offset=".593" stop-opacity=".07"/><stop offset=".611" stop-opacity=".1"/><stop offset=".63" stop-opacity=".17"/><stop offset=".648" stop-opacity=".3"/><stop offset=".667" stop-opacity=".47"/><stop offset=".685" stop-opacity=".67"/><stop offset=".704" stop-opacity=".81"/><stop offset=".722" stop-opacity=".8"/><stop offset=".741" stop-opacity=".69"/><stop offset=".778" stop-opacity=".29"/><stop offset=".796" stop-opacity=".14"/><stop offset=".815" stop-opacity=".06"/><stop offset=".833" stop-opacity=".02"/><stop offset=".852" stop-opacity="0"/><stop offset="1" stop-opacity="0"/></linearGradient>
<rect x="620.10" y="40.10" width="8.8" height="93.90" fill="url(#L0_11)" opacity="0.85" filter="url(#lane)"/>
<linearGradient id="L0_12" gradientUnits="userSpaceOnUse" x1="0" y1="43.1" x2="0" y2="131.0"><stop offset="0" stop-opacity=".02"/><stop offset=".167" stop-opacity=".05"/><stop offset=".185" stop-opacity=".07"/><stop offset=".204" stop-opacity=".13"/><stop offset=".222" stop-opacity=".23"/><stop offset=".241" stop-opacity=".35"/><stop offset=".259" stop-opacity=".43"/><stop offset=".278" stop-opacity=".32"/><stop offset=".296" stop-opacity=".19"/><stop offset=".315" stop-opacity=".11"/><stop offset=".352" stop-opacity=".08"/><stop offset=".481" stop-opacity=".05"/><stop offset=".556" stop-opacity=".05"/><stop offset=".593" stop-opacity=".09"/><stop offset=".611" stop-opacity=".16"/><stop offset=".63" stop-opacity=".28"/><stop offset=".648" stop-opacity=".45"/><stop offset=".667" stop-opacity=".64"/><stop offset=".685" stop-opacity=".8"/><stop offset=".704" stop-opacity=".8"/><stop offset=".722" stop-opacity=".71"/><stop offset=".759" stop-opacity=".32"/><stop offset=".778" stop-opacity=".16"/><stop offset=".796" stop-opacity=".06"/><stop offset=".815" stop-opacity=".02"/><stop offset=".833" stop-opacity="0"/><stop offset="1" stop-opacity="0"/></linearGradient>
<rect x="636.60" y="40.10" width="8.8" height="93.90" fill="url(#L0_12)" opacity="0.85" filter="url(#lane)"/>
<linearGradient id="L0_13" gradientUnits="userSpaceOnUse" x1="0" y1="43.1" x2="0" y2="131.0"><stop offset="0" stop-opacity=".02"/><stop offset=".148" stop-opacity=".05"/><stop offset=".167" stop-opacity=".06"/><stop offset=".185" stop-opacity=".1"/><stop offset=".204" stop-opacity=".18"/><stop offset=".222" stop-opacity=".3"/><stop offset=".241" stop-opacity=".38"/><stop offset=".259" stop-opacity=".38"/><stop offset=".278" stop-opacity=".24"/><stop offset=".296" stop-opacity=".14"/><stop offset=".315" stop-opacity=".1"/><stop offset=".333" stop-opacity=".08"/><stop offset=".481" stop-opacity=".05"/><stop offset=".556" stop-opacity=".06"/><stop offset=".574" stop-opacity=".09"/><stop offset=".593" stop-opacity=".14"/><stop offset=".611" stop-opacity=".25"/><stop offset=".63" stop-opacity=".41"/><stop offset=".648" stop-opacity=".6"/><stop offset=".667" stop-opacity=".77"/><stop offset=".685" stop-opacity=".85"/><stop offset=".704" stop-opacity=".74"/><stop offset=".722" stop-opacity=".57"/><stop offset=".741" stop-opacity=".36"/><stop offset=".759" stop-opacity=".18"/><stop offset=".778" stop-opacity=".08"/><stop offset=".796" stop-opacity=".03"/><stop offset=".815" stop-opacity="0"/><stop offset="1" stop-opacity="0"/></linearGradient>
<rect x="653.10" y="40.10" width="8.8" height="93.90" fill="url(#L0_13)" opacity="0.85" filter="url(#lane)"/>
</g>
<rect x="444.6" y="43.1" width="224.60" height="87.90" fill="none" stroke="#000" stroke-width="1.45"/>
<line x1="438.60" y1="61.0" x2="444.6" y2="61.0" stroke="#000" stroke-width="1.45"/>
<text x="438.00" y="64.7" font-size="13.1" text-anchor="end">480</text>
<line x1="438.60" y1="118.8" x2="444.6" y2="118.8" stroke="#000" stroke-width="1.45"/>
<text x="438.00" y="122.5" font-size="13.1" text-anchor="end">66</text>
<text x="409.6" y="91.8" font-size="15.6" text-anchor="end">TAp63α</text>
<text x="672.6" y="69.0" font-size="14.3">D</text>
<text x="672.5" y="106.7" font-size="14.3">M</text>
<clipPath id="gclip1"><rect x="444.6" y="135.1" width="224.60" height="87.10"/></clipPath>
<rect x="444.6" y="135.1" width="224.60" height="87.10" fill="#f6f6f6"/>
<g clip-path="url(#gclip1)">
<linearGradient id="L1_0" gradientUnits="userSpaceOnUse" x1="0" y1="135.1" x2="0" y2="222.2"><stop offset="0" stop-opacity=".2"/><stop offset=".204" stop-opacity=".23"/><stop offset=".259" stop-opacity=".27"/><stop offset=".296" stop-opacity=".34"/><stop offset=".315" stop-opacity=".41"/><stop offset=".333" stop-opacity=".5"/><stop offset=".352" stop-opacity=".61"/><stop offset=".37" stop-opacity=".75"/><stop offset=".389" stop-opacity=".91"/><stop offset=".407" stop-opacity="1"/><stop offset=".481" stop-opacity="1"/><stop offset=".5" stop-opacity=".64"/><stop offset=".519" stop-opacity=".24"/><stop offset=".537" stop-opacity=".05"/><stop offset=".556" stop-opacity="0"/><stop offset="1" stop-opacity="0"/></linearGradient>
<rect x="449.30" y="132.10" width="8.6" height="93.10" fill="url(#L1_0)" opacity="0.72" filter="url(#lane)"/>
<rect x="448.75" y="132.10" width="2.5" height="57.10" fill="url(#L1_0)" opacity="0.9" filter="url(#edge)"/>
<rect x="455.95" y="132.10" width="2.5" height="57.10" fill="url(#L1_0)" opacity="0.9" filter="url(#edge)"/>
<linearGradient id="L1_1" gradientUnits="userSpaceOnUse" x1="0" y1="135.1" x2="0" y2="222.2"><stop offset="0" stop-opacity=".2"/><stop offset=".204" stop-opacity=".23"/><stop offset=".259" stop-opacity=".27"/><stop offset=".296" stop-opacity=".34"/><stop offset=".315" stop-opacity=".41"/><stop offset=".333" stop-opacity=".5"/><stop offset=".352" stop-opacity=".61"/><stop offset=".37" stop-opacity=".75"/><stop offset=".389" stop-opacity=".91"/><stop offset=".407" stop-opacity="1"/><stop offset=".481" stop-opacity="1"/><stop offset=".5" stop-opacity=".64"/><stop offset=".519" stop-opacity=".24"/><stop offset=".537" stop-opacity=".05"/><stop offset=".556" stop-opacity="0"/><stop offset="1" stop-opacity="0"/></linearGradient>
<rect x="465.00" y="132.10" width="8.6" height="93.10" fill="url(#L1_1)" opacity="0.72" filter="url(#lane)"/>
<rect x="464.45" y="132.10" width="2.5" height="57.10" fill="url(#L1_1)" opacity="0.9" filter="url(#edge)"/>
<rect x="471.65" y="132.10" width="2.5" height="57.10" fill="url(#L1_1)" opacity="0.9" filter="url(#edge)"/>
<linearGradient id="L1_2" gradientUnits="userSpaceOnUse" x1="0" y1="135.1" x2="0" y2="222.2"><stop offset="0" stop-opacity=".2"/><stop offset=".204" stop-opacity=".23"/><stop offset=".259" stop-opacity=".27"/><stop offset=".296" stop-opacity=".34"/><stop offset=".315" stop-opacity=".41"/><stop offset=".333" stop-opacity=".5"/><stop offset=".352" stop-opacity=".61"/><stop offset=".37" stop-opacity=".75"/><stop offset=".389" stop-opacity=".91"/><stop offset=".407" stop-opacity="1"/><stop offset=".481" stop-opacity="1"/><stop offset=".5" stop-opacity=".64"/><stop offset=".519" stop-opacity=".24"/><stop offset=".537" stop-opacity=".05"/><stop offset=".556" stop-opacity="0"/><stop offset="1" stop-opacity="0"/></linearGradient>
<rect x="480.80" y="132.10" width="8.6" height="93.10" fill="url(#L1_2)" opacity="0.72" filter="url(#lane)"/>
<rect x="480.25" y="132.10" width="2.5" height="57.10" fill="url(#L1_2)" opacity="0.9" filter="url(#edge)"/>
<rect x="487.45" y="132.10" width="2.5" height="57.10" fill="url(#L1_2)" opacity="0.9" filter="url(#edge)"/>
<linearGradient id="L1_3" gradientUnits="userSpaceOnUse" x1="0" y1="135.1" x2="0" y2="222.2"><stop offset="0" stop-opacity=".2"/><stop offset=".204" stop-opacity=".23"/><stop offset=".259" stop-opacity=".27"/><stop offset=".296" stop-opacity=".34"/><stop offset=".315" stop-opacity=".41"/><stop offset=".333" stop-opacity=".5"/><stop offset=".352" stop-opacity=".61"/><stop offset=".37" stop-opacity=".75"/><stop offset=".389" stop-opacity=".91"/><stop offset=".407" stop-opacity="1"/><stop offset=".481" stop-opacity="1"/><stop offset=".5" stop-opacity=".64"/><stop offset=".519" stop-opacity=".24"/><stop offset=".537" stop-opacity=".05"/><stop offset=".556" stop-opacity="0"/><stop offset="1" stop-opacity="0"/></linearGradient>
<rect x="496.50" y="132.10" width="8.6" height="93.10" fill="url(#L1_3)" opacity="0.72" filter="url(#lane)"/>
<rect x="495.95" y="132.10" width="2.5" height="57.10" fill="url(#L1_3)" opacity="0.9" filter="url(#edge)"/>
<rect x="503.15" y="132.10" width="2.5" height="57.10" fill="url(#L1_3)" opacity="0.9" filter="url(#edge)"/>
<linearGradient id="L1_4" gradientUnits="userSpaceOnUse" x1="0" y1="135.1" x2="0" y2="222.2"><stop offset="0" stop-opacity=".2"/><stop offset=".204" stop-opacity=".23"/><stop offset=".259" stop-opacity=".27"/><stop offset=".296" stop-opacity=".34"/><stop offset=".315" stop-opacity=".41"/><stop offset=".333" stop-opacity=".5"/><stop offset=".352" stop-opacity=".61"/><stop offset=".37" stop-opacity=".75"/><stop offset=".389" stop-opacity=".91"/><stop offset=".407" stop-opacity="1"/><stop offset=".481" stop-opacity="1"/><stop offset=".5" stop-opacity=".64"/><stop offset=".519" stop-opacity=".24"/><stop offset=".537" stop-opacity=".05"/><stop offset=".556" stop-opacity="0"/><stop offset="1" stop-opacity="0"/></linearGradient>
<rect x="511.90" y="132.10" width="8.6" height="93.10" fill="url(#L1_4)" opacity="0.72" filter="url(#lane)"/>
<rect x="511.35" y="132.10" width="2.5" height="57.10" fill="url(#L1_4)" opacity="0.9" filter="url(#edge)"/>
<rect x="518.55" y="132.10" width="2.5" height="57.10" fill="url(#L1_4)" opacity="0.9" filter="url(#edge)"/>
<linearGradient id="L1_5" gradientUnits="userSpaceOnUse" x1="0" y1="135.1" x2="0" y2="222.2"><stop offset="0" stop-opacity=".19"/><stop offset=".204" stop-opacity=".22"/><stop offset=".259" stop-opacity=".26"/><stop offset=".296" stop-opacity=".33"/><stop offset=".333" stop-opacity=".48"/><stop offset=".352" stop-opacity=".59"/><stop offset=".407" stop-opacity=".98"/><stop offset=".426" stop-opacity="1"/><stop offset=".444" stop-opacity=".92"/><stop offset=".463" stop-opacity=".95"/><stop offset=".481" stop-opacity=".76"/><stop offset=".5" stop-opacity=".37"/><stop offset=".519" stop-opacity=".11"/><stop offset=".537" stop-opacity=".02"/><stop offset=".556" stop-opacity="0"/><stop offset="1" stop-opacity="0"/></linearGradient>
<rect x="527.30" y="132.10" width="8.6" height="93.10" fill="url(#L1_5)" opacity="0.72" filter="url(#lane)"/>
<rect x="526.75" y="132.10" width="2.5" height="56.40" fill="url(#L1_5)" opacity="0.9" filter="url(#edge)"/>
<rect x="533.95" y="132.10" width="2.5" height="56.40" fill="url(#L1_5)" opacity="0.9" filter="url(#edge)"/>
<linearGradient id="L1_6" gradientUnits="userSpaceOnUse" x1="0" y1="135.1" x2="0" y2="222.2"><stop offset="0" stop-opacity=".15"/><stop offset=".167" stop-opacity=".18"/><stop offset=".222" stop-opacity=".22"/><stop offset=".259" stop-opacity=".28"/><stop offset=".296" stop-opacity=".39"/><stop offset=".352" stop-opacity=".61"/><stop offset=".389" stop-opacity=".72"/><stop offset=".407" stop-opacity=".75"/><stop offset=".426" stop-opacity=".75"/><stop offset=".444" stop-opacity=".48"/><stop offset=".481" stop-opacity=".23"/><stop offset=".5" stop-opacity=".13"/><stop offset=".519" stop-opacity=".06"/><stop offset=".556" stop-opacity="0"/><stop offset="1" stop-opacity="0"/></linearGradient>
<rect x="542.60" y="132.10" width="8.6" height="93.10" fill="url(#L1_6)" opacity="0.72" filter="url(#lane)"/>
<rect x="542.05" y="132.10" width="2.5" height="55.90" fill="url(#L1_6)" opacity="0.9" filter="url(#edge)"/>
<rect x="549.25" y="132.10" width="2.5" height="55.90" fill="url(#L1_6)" opacity="0.9" filter="url(#edge)"/>
<linearGradient id="L1_7" gradientUnits="userSpaceOnUse" x1="0" y1="135.1" x2="0" y2="222.2"><stop offset="0" stop-opacity=".15"/><stop offset=".167" stop-opacity=".18"/><stop offset=".222" stop-opacity=".22"/><stop offset=".259" stop-opacity=".28"/><stop offset=".296" stop-opacity=".39"/><stop offset=".352" stop-opacity=".61"/><stop offset=".389" stop-opacity=".72"/><stop offset=".407" stop-opacity=".75"/><stop offset=".426" stop-opacity=".75"/><stop offset=".444" stop-opacity=".48"/><stop offset=".481" stop-opacity=".23"/><stop offset=".5" stop-opacity=".13"/><stop offset=".519" stop-opacity=".06"/><stop offset=".556" stop-opacity="0"/><stop offset=".796" stop-opacity="0"/><stop offset=".815" stop-opacity=".02"/><stop offset=".833" stop-opacity=".02"/><stop offset=".852" stop-opacity="0"/><stop offset="1" stop-opacity="0"/></linearGradient>
<rect x="558.00" y="132.10" width="8.6" height="93.10" fill="url(#L1_7)" opacity="0.72" filter="url(#lane)"/>
<rect x="557.45" y="132.10" width="2.5" height="55.90" fill="url(#L1_7)" opacity="0.9" filter="url(#edge)"/>
<rect x="564.65" y="132.10" width="2.5" height="55.90" fill="url(#L1_7)" opacity="0.9" filter="url(#edge)"/>
<linearGradient id="L1_8" gradientUnits="userSpaceOnUse" x1="0" y1="135.1" x2="0" y2="222.2"><stop offset="0" stop-opacity=".17"/><stop offset=".13" stop-opacity=".18"/><stop offset=".185" stop-opacity=".2"/><stop offset=".222" stop-opacity=".24"/><stop offset=".278" stop-opacity=".37"/><stop offset=".352" stop-opacity=".68"/><stop offset=".389" stop-opacity=".79"/><stop offset=".407" stop-opacity=".81"/><stop offset=".426" stop-opacity=".79"/><stop offset=".444" stop-opacity=".48"/><stop offset=".481" stop-opacity=".21"/><stop offset=".5" stop-opacity=".11"/><stop offset=".519" stop-opacity=".05"/><stop offset=".556" stop-opacity="0"/><stop offset=".704" stop-opacity="0"/><stop offset=".796" stop-opacity=".06"/><stop offset=".87" stop-opacity=".05"/><stop offset=".926" stop-opacity="0"/><stop offset="1" stop-opacity="0"/></linearGradient>
<rect x="573.80" y="132.10" width="8.6" height="93.10" fill="url(#L1_8)" opacity="0.72" filter="url(#lane)"/>
<rect x="573.25" y="132.10" width="2.5" height="55.40" fill="url(#L1_8)" opacity="0.9" filter="url(#edge)"/>
<rect x="580.45" y="132.10" width="2.5" height="55.40" fill="url(#L1_8)" opacity="0.9" filter="url(#edge)"/>
<linearGradient id="L1_9" gradientUnits="userSpaceOnUse" x1="0" y1="135.1" x2="0" y2="222.2"><stop offset="0" stop-opacity=".15"/><stop offset=".148" stop-opacity=".18"/><stop offset=".204" stop-opacity=".22"/><stop offset=".222" stop-opacity=".24"/><stop offset=".259" stop-opacity=".33"/><stop offset=".352" stop-opacity=".67"/><stop offset=".37" stop-opacity=".72"/><stop offset=".389" stop-opacity=".75"/><stop offset=".407" stop-opacity=".75"/><stop offset=".426" stop-opacity=".49"/><stop offset=".463" stop-opacity=".24"/><stop offset=".481" stop-opacity=".14"/><stop offset=".5" stop-opacity=".07"/><stop offset=".537" stop-opacity="0"/><stop offset=".685" stop-opacity="0"/><stop offset=".796" stop-opacity=".11"/><stop offset=".833" stop-opacity=".12"/><stop offset=".944" stop-opacity="0"/><stop offset="1" stop-opacity="0"/></linearGradient>
<rect x="589.10" y="132.10" width="8.6" height="93.10" fill="url(#L1_9)" opacity="0.72" filter="url(#lane)"/>
<rect x="588.55" y="132.10" width="2.5" height="54.40" fill="url(#L1_9)" opacity="0.9" filter="url(#edge)"/>
<rect x="595.75" y="132.10" width="2.5" height="54.40" fill="url(#L1_9)" opacity="0.9" filter="url(#edge)"/>
<linearGradient id="L1_10" gradientUnits="userSpaceOnUse" x1="0" y1="135.1" x2="0" y2="222.2"><stop offset="0" stop-opacity=".1"/><stop offset=".167" stop-opacity=".12"/><stop offset=".222" stop-opacity=".16"/><stop offset=".259" stop-opacity=".21"/><stop offset=".352" stop-opacity=".43"/><stop offset=".37" stop-opacity=".46"/><stop offset=".389" stop-opacity=".34"/><stop offset=".407" stop-opacity=".33"/><stop offset=".5" stop-opacity=".09"/><stop offset=".537" stop-opacity=".03"/><stop offset=".574" stop-opacity="0"/><stop offset=".648" stop-opacity="0"/><stop offset=".685" stop-opacity=".03"/><stop offset=".741" stop-opacity=".13"/><stop offset=".778" stop-opacity=".21"/><stop offset=".815" stop-opacity=".24"/><stop offset=".852" stop-opacity=".19"/><stop offset=".907" stop-opacity=".06"/><stop offset=".926" stop-opacity=".03"/><stop offset=".963" stop-opacity="0"/><stop offset="1" stop-opacity="0"/></linearGradient>
<rect x="604.50" y="132.10" width="8.6" height="93.10" fill="url(#L1_10)" opacity="0.72" filter="url(#lane)"/>
<linearGradient id="L1_11" gradientUnits="userSpaceOnUse" x1="0" y1="135.1" x2="0" y2="222.2"><stop offset="0" stop-opacity=".08"/><stop offset=".148" stop-opacity=".09"/><stop offset=".222" stop-opacity=".14"/><stop offset=".259" stop-opacity=".19"/><stop offset=".333" stop-opacity=".33"/><stop offset=".352" stop-opacity=".35"/><stop offset=".37" stop-opacity=".26"/><stop offset=".407" stop-opacity=".23"/><stop offset=".481" stop-opacity=".07"/><stop offset=".537" stop-opacity="0"/><stop offset=".63" stop-opacity="0"/><stop offset=".685" stop-opacity=".08"/><stop offset=".759" stop-opacity=".31"/><stop offset=".778" stop-opacity=".35"/><stop offset=".796" stop-opacity=".36"/><stop offset=".815" stop-opacity=".34"/><stop offset=".833" stop-opacity=".29"/><stop offset=".87" stop-opacity=".15"/><stop offset=".907" stop-opacity=".05"/><stop offset=".944" stop-opacity="0"/><stop offset="1" stop-opacity="0"/></linearGradient>
<rect x="620.20" y="132.10" width="8.6" height="93.10" fill="url(#L1_11)" opacity="0.72" filter="url(#lane)"/>
<linearGradient id="L1_12" gradientUnits="userSpaceOnUse" x1="0" y1="135.1" x2="0" y2="222.2"><stop offset="0" stop-opacity=".07"/><stop offset=".148" stop-opacity=".08"/><stop offset=".222" stop-opacity=".13"/><stop offset=".278" stop-opacity=".21"/><stop offset=".315" stop-opacity=".28"/><stop offset=".333" stop-opacity=".3"/><stop offset=".352" stop-opacity=".22"/><stop offset=".389" stop-opacity=".21"/><stop offset=".463" stop-opacity=".07"/><stop offset=".537" stop-opacity="0"/><stop offset=".611" stop-opacity="0"/><stop offset=".648" stop-opacity=".04"/><stop offset=".685" stop-opacity=".12"/><stop offset=".741" stop-opacity=".3"/><stop offset=".759" stop-opacity=".34"/><stop offset=".778" stop-opacity=".36"/><stop offset=".796" stop-opacity=".35"/><stop offset=".815" stop-opacity=".3"/><stop offset=".87" stop-opacity=".1"/><stop offset=".926" stop-opacity="0"/><stop offset="1" stop-opacity="0"/></linearGradient>
<rect x="636.70" y="132.10" width="8.6" height="93.10" fill="url(#L1_12)" opacity="0.72" filter="url(#lane)"/>
<linearGradient id="L1_13" gradientUnits="userSpaceOnUse" x1="0" y1="135.1" x2="0" y2="222.2"><stop offset="0" stop-opacity=".06"/><stop offset=".148" stop-opacity=".07"/><stop offset=".204" stop-opacity=".11"/><stop offset=".315" stop-opacity=".25"/><stop offset=".333" stop-opacity=".19"/><stop offset=".352" stop-opacity=".19"/><stop offset=".407" stop-opacity=".12"/><stop offset=".463" stop-opacity=".04"/><stop offset=".481" stop-opacity=".03"/><stop offset=".5" stop-opacity="0"/><stop offset=".593" stop-opacity="0"/><stop offset=".648" stop-opacity=".06"/><stop offset=".667" stop-opacity=".1"/><stop offset=".741" stop-opacity=".33"/><stop offset=".759" stop-opacity=".36"/><stop offset=".778" stop-opacity=".35"/><stop offset=".796" stop-opacity=".32"/><stop offset=".852" stop-opacity=".12"/><stop offset=".87" stop-opacity=".07"/><stop offset=".926" stop-opacity="0"/><stop offset="1" stop-opacity="0"/></linearGradient>
<rect x="653.20" y="132.10" width="8.6" height="93.10" fill="url(#L1_13)" opacity="0.72" filter="url(#lane)"/>
</g>
<rect x="444.6" y="135.1" width="224.60" height="87.10" fill="none" stroke="#000" stroke-width="1.45"/>
<line x1="438.60" y1="153.4" x2="444.6" y2="153.4" stroke="#000" stroke-width="1.45"/>
<text x="438.00" y="157.1" font-size="13.1" text-anchor="end">480</text>
<line x1="438.60" y1="213.3" x2="444.6" y2="213.3" stroke="#000" stroke-width="1.45"/>
<text x="438.00" y="217.0" font-size="13.1" text-anchor="end">66</text>
<text x="409.6" y="183.2" font-size="15.6" text-anchor="end">TA*p63α</text>
<text x="672.6" y="167.5" font-size="14.3">D</text>
<text x="672.5" y="205.8" font-size="14.3">M</text>
<clipPath id="gclip2"><rect x="444.6" y="226.4" width="224.60" height="87.60"/></clipPath>
<rect x="444.6" y="226.4" width="224.60" height="87.60" fill="#e9e9e9"/>
<g clip-path="url(#gclip2)">
<linearGradient id="L2_0" gradientUnits="userSpaceOnUse" x1="0" y1="226.4" x2="0" y2="314.0"><stop offset="0" stop-opacity=".07"/><stop offset=".093" stop-opacity=".11"/><stop offset=".167" stop-opacity=".2"/><stop offset=".185" stop-opacity=".24"/><stop offset=".241" stop-opacity=".43"/><stop offset=".296" stop-opacity=".68"/><stop offset=".333" stop-opacity=".82"/><stop offset=".352" stop-opacity=".87"/><stop offset=".37" stop-opacity=".67"/><stop offset=".389" stop-opacity=".63"/><stop offset=".407" stop-opacity=".52"/><stop offset=".444" stop-opacity=".23"/><stop offset=".463" stop-opacity=".13"/><stop offset=".481" stop-opacity=".07"/><stop offset=".519" stop-opacity="0"/><stop offset="1" stop-opacity="0"/></linearGradient>
<rect x="448.20" y="223.40" width="10.8" height="93.60" fill="url(#L2_0)" opacity="1" filter="url(#lane3)"/>
<ellipse cx="450.60" cy="259.00" rx="1.6" ry="3.6" fill="#000" opacity="0.95" filter="url(#bl1)"/>
<linearGradient id="L2_1" gradientUnits="userSpaceOnUse" x1="0" y1="226.4" x2="0" y2="314.0"><stop offset="0" stop-opacity=".06"/><stop offset=".093" stop-opacity=".09"/><stop offset=".167" stop-opacity=".14"/><stop offset=".222" stop-opacity=".24"/><stop offset=".259" stop-opacity=".35"/><stop offset=".333" stop-opacity=".61"/><stop offset=".352" stop-opacity=".66"/><stop offset=".37" stop-opacity=".69"/><stop offset=".389" stop-opacity=".53"/><stop offset=".407" stop-opacity=".49"/><stop offset=".426" stop-opacity=".4"/><stop offset=".463" stop-opacity=".17"/><stop offset=".481" stop-opacity=".1"/><stop offset=".5" stop-opacity=".05"/><stop offset=".537" stop-opacity="0"/><stop offset="1" stop-opacity="0"/></linearGradient>
<rect x="463.90" y="223.40" width="10.8" height="93.60" fill="url(#L2_1)" opacity="1" filter="url(#lane3)"/>
<linearGradient id="L2_2" gradientUnits="userSpaceOnUse" x1="0" y1="226.4" x2="0" y2="314.0"><stop offset="0" stop-opacity=".05"/><stop offset=".167" stop-opacity=".12"/><stop offset=".204" stop-opacity=".16"/><stop offset=".241" stop-opacity=".23"/><stop offset=".352" stop-opacity=".57"/><stop offset=".37" stop-opacity=".62"/><stop offset=".389" stop-opacity=".65"/><stop offset=".407" stop-opacity=".49"/><stop offset=".426" stop-opacity=".45"/><stop offset=".444" stop-opacity=".37"/><stop offset=".481" stop-opacity=".16"/><stop offset=".5" stop-opacity=".09"/><stop offset=".519" stop-opacity=".04"/><stop offset=".556" stop-opacity="0"/><stop offset="1" stop-opacity="0"/></linearGradient>
<rect x="479.70" y="223.40" width="10.8" height="93.60" fill="url(#L2_2)" opacity="1" filter="url(#lane3)"/>
<linearGradient id="L2_3" gradientUnits="userSpaceOnUse" x1="0" y1="226.4" x2="0" y2="314.0"><stop offset="0" stop-opacity=".05"/><stop offset=".148" stop-opacity=".1"/><stop offset=".204" stop-opacity=".15"/><stop offset=".259" stop-opacity=".25"/><stop offset=".37" stop-opacity=".59"/><stop offset=".407" stop-opacity=".66"/><stop offset=".426" stop-opacity=".48"/><stop offset=".444" stop-opacity=".43"/><stop offset=".481" stop-opacity=".22"/><stop offset=".5" stop-opacity=".13"/><stop offset=".519" stop-opacity=".07"/><stop offset=".537" stop-opacity=".03"/><stop offset=".574" stop-opacity="0"/><stop offset="1" stop-opacity="0"/></linearGradient>
<rect x="495.40" y="223.40" width="10.8" height="93.60" fill="url(#L2_3)" opacity="1" filter="url(#lane3)"/>
<linearGradient id="L2_4" gradientUnits="userSpaceOnUse" x1="0" y1="226.4" x2="0" y2="314.0"><stop offset="0" stop-opacity=".05"/><stop offset=".148" stop-opacity=".1"/><stop offset=".204" stop-opacity=".14"/><stop offset=".259" stop-opacity=".22"/><stop offset=".37" stop-opacity=".54"/><stop offset=".407" stop-opacity=".61"/><stop offset=".426" stop-opacity=".46"/><stop offset=".444" stop-opacity=".42"/><stop offset=".463" stop-opacity=".34"/><stop offset=".481" stop-opacity=".23"/><stop offset=".5" stop-opacity=".14"/><stop offset=".519" stop-opacity=".08"/><stop offset=".537" stop-opacity=".04"/><stop offset=".574" stop-opacity="0"/><stop offset="1" stop-opacity="0"/></linearGradient>
<rect x="510.80" y="223.40" width="10.8" height="93.60" fill="url(#L2_4)" opacity="1" filter="url(#lane3)"/>
<linearGradient id="L2_5" gradientUnits="userSpaceOnUse" x1="0" y1="226.4" x2="0" y2="314.0"><stop offset="0" stop-opacity=".05"/><stop offset=".148" stop-opacity=".1"/><stop offset=".204" stop-opacity=".14"/><stop offset=".259" stop-opacity=".22"/><stop offset=".37" stop-opacity=".54"/><stop offset=".407" stop-opacity=".61"/><stop offset=".426" stop-opacity=".46"/><stop offset=".444" stop-opacity=".42"/><stop offset=".463" stop-opacity=".34"/><stop offset=".481" stop-opacity=".23"/><stop offset=".5" stop-opacity=".14"/><stop offset=".519" stop-opacity=".08"/><stop offset=".537" stop-opacity=".04"/><stop offset=".574" stop-opacity="0"/><stop offset="1" stop-opacity="0"/></linearGradient>
<rect x="526.20" y="223.40" width="10.8" height="93.60" fill="url(#L2_5)" opacity="1" filter="url(#lane3)"/>
<linearGradient id="L2_6" gradientUnits="userSpaceOnUse" x1="0" y1="226.4" x2="0" y2="314.0"><stop offset="0" stop-opacity=".05"/><stop offset=".148" stop-opacity=".1"/><stop offset=".204" stop-opacity=".15"/><stop offset=".259" stop-opacity=".25"/><stop offset=".37" stop-opacity=".59"/><stop offset=".407" stop-opacity=".66"/><stop offset=".426" stop-opacity=".48"/><stop offset=".444" stop-opacity=".43"/><stop offset=".481" stop-opacity=".22"/><stop offset=".5" stop-opacity=".13"/><stop offset=".519" stop-opacity=".07"/><stop offset=".537" stop-opacity=".03"/><stop offset=".574" stop-opacity="0"/><stop offset="1" stop-opacity="0"/></linearGradient>
<rect x="541.50" y="223.40" width="10.8" height="93.60" fill="url(#L2_6)" opacity="1" filter="url(#lane3)"/>
<linearGradient id="L2_7" gradientUnits="userSpaceOnUse" x1="0" y1="226.4" x2="0" y2="314.0"><stop offset="0" stop-opacity=".05"/><stop offset=".148" stop-opacity=".1"/><stop offset=".204" stop-opacity=".15"/><stop offset=".259" stop-opacity=".25"/><stop offset=".37" stop-opacity=".59"/><stop offset=".407" stop-opacity=".66"/><stop offset=".426" stop-opacity=".48"/><stop offset=".444" stop-opacity=".43"/><stop offset=".481" stop-opacity=".22"/><stop offset=".5" stop-opacity=".13"/><stop offset=".519" stop-opacity=".07"/><stop offset=".537" stop-opacity=".03"/><stop offset=".574" stop-opacity="0"/><stop offset=".796" stop-opacity="0"/><stop offset=".815" stop-opacity=".02"/><stop offset=".833" stop-opacity=".02"/><stop offset=".852" stop-opacity="0"/><stop offset="1" stop-opacity="0"/></linearGradient>
<rect x="556.90" y="223.40" width="10.8" height="93.60" fill="url(#L2_7)" opacity="1" filter="url(#lane3)"/>
<linearGradient id="L2_8" gradientUnits="userSpaceOnUse" x1="0" y1="226.4" x2="0" y2="314.0"><stop offset="0" stop-opacity=".05"/><stop offset=".13" stop-opacity=".1"/><stop offset=".185" stop-opacity=".14"/><stop offset=".241" stop-opacity=".22"/><stop offset=".296" stop-opacity=".38"/><stop offset=".352" stop-opacity=".56"/><stop offset=".389" stop-opacity=".64"/><stop offset=".407" stop-opacity=".49"/><stop offset=".426" stop-opacity=".47"/><stop offset=".444" stop-opacity=".4"/><stop offset=".481" stop-opacity=".18"/><stop offset=".5" stop-opacity=".11"/><stop offset=".519" stop-opacity=".06"/><stop offset=".556" stop-opacity="0"/><stop offset=".722" stop-opacity="0"/><stop offset=".778" stop-opacity=".04"/><stop offset=".833" stop-opacity=".05"/><stop offset=".907" stop-opacity="0"/><stop offset="1" stop-opacity="0"/></linearGradient>
<rect x="572.70" y="223.40" width="10.8" height="93.60" fill="url(#L2_8)" opacity="1" filter="url(#lane3)"/>
<linearGradient id="L2_9" gradientUnits="userSpaceOnUse" x1="0" y1="226.4" x2="0" y2="314.0"><stop offset="0" stop-opacity=".05"/><stop offset=".148" stop-opacity=".1"/><stop offset=".222" stop-opacity=".19"/><stop offset=".278" stop-opacity=".33"/><stop offset=".333" stop-opacity=".5"/><stop offset=".37" stop-opacity=".59"/><stop offset=".389" stop-opacity=".61"/><stop offset=".407" stop-opacity=".45"/><stop offset=".426" stop-opacity=".4"/><stop offset=".481" stop-opacity=".12"/><stop offset=".519" stop-opacity=".03"/><stop offset=".556" stop-opacity="0"/><stop offset=".704" stop-opacity="0"/><stop offset=".722" stop-opacity=".03"/><stop offset=".815" stop-opacity=".1"/><stop offset=".889" stop-opacity=".03"/><stop offset=".907" stop-opacity="0"/><stop offset="1" stop-opacity="0"/></linearGradient>
<rect x="588.00" y="223.40" width="10.8" height="93.60" fill="url(#L2_9)" opacity="1" filter="url(#lane3)"/>
<linearGradient id="L2_10" gradientUnits="userSpaceOnUse" x1="0" y1="226.4" x2="0" y2="314.0"><stop offset="0" stop-opacity=".03"/><stop offset=".148" stop-opacity=".08"/><stop offset=".204" stop-opacity=".13"/><stop offset=".259" stop-opacity=".24"/><stop offset=".315" stop-opacity=".38"/><stop offset=".333" stop-opacity=".41"/><stop offset=".352" stop-opacity=".42"/><stop offset=".37" stop-opacity=".31"/><stop offset=".426" stop-opacity=".2"/><stop offset=".481" stop-opacity=".07"/><stop offset=".556" stop-opacity="0"/><stop offset=".648" stop-opacity="0"/><stop offset=".704" stop-opacity=".07"/><stop offset=".759" stop-opacity=".23"/><stop offset=".778" stop-opacity=".27"/><stop offset=".796" stop-opacity=".28"/><stop offset=".815" stop-opacity=".26"/><stop offset=".87" stop-opacity=".08"/><stop offset=".889" stop-opacity=".04"/><stop offset=".926" stop-opacity="0"/><stop offset="1" stop-opacity="0"/></linearGradient>
<rect x="603.40" y="223.40" width="10.8" height="93.60" fill="url(#L2_10)" opacity="1" filter="url(#lane3)"/>
<linearGradient id="L2_11" gradientUnits="userSpaceOnUse" x1="0" y1="226.4" x2="0" y2="314.0"><stop offset="0" stop-opacity=".03"/><stop offset=".148" stop-opacity=".06"/><stop offset=".222" stop-opacity=".13"/><stop offset=".315" stop-opacity=".27"/><stop offset=".333" stop-opacity=".28"/><stop offset=".352" stop-opacity=".19"/><stop offset=".37" stop-opacity=".18"/><stop offset=".463" stop-opacity=".05"/><stop offset=".519" stop-opacity="0"/><stop offset=".63" stop-opacity="0"/><stop offset=".667" stop-opacity=".06"/><stop offset=".685" stop-opacity=".11"/><stop offset=".704" stop-opacity=".18"/><stop offset=".741" stop-opacity=".35"/><stop offset=".759" stop-opacity=".42"/><stop offset=".778" stop-opacity=".44"/><stop offset=".796" stop-opacity=".41"/><stop offset=".852" stop-opacity=".13"/><stop offset=".87" stop-opacity=".07"/><stop offset=".907" stop-opacity="0"/><stop offset="1" stop-opacity="0"/></linearGradient>
<rect x="619.10" y="223.40" width="10.8" height="93.60" fill="url(#L2_11)" opacity="1" filter="url(#lane3)"/>
<linearGradient id="L2_12" gradientUnits="userSpaceOnUse" x1="0" y1="226.4" x2="0" y2="314.0"><stop offset="0" stop-opacity=".03"/><stop offset=".13" stop-opacity=".07"/><stop offset=".185" stop-opacity=".12"/><stop offset=".278" stop-opacity=".29"/><stop offset=".315" stop-opacity=".33"/><stop offset=".333" stop-opacity=".23"/><stop offset=".37" stop-opacity=".19"/><stop offset=".444" stop-opacity=".06"/><stop offset=".5" stop-opacity="0"/><stop offset=".611" stop-opacity="0"/><stop offset=".648" stop-opacity=".06"/><stop offset=".667" stop-opacity=".11"/><stop offset=".704" stop-opacity=".28"/><stop offset=".722" stop-opacity=".38"/><stop offset=".741" stop-opacity=".45"/><stop offset=".759" stop-opacity=".48"/><stop offset=".778" stop-opacity=".45"/><stop offset=".796" stop-opacity=".36"/><stop offset=".833" stop-opacity=".15"/><stop offset=".852" stop-opacity=".08"/><stop offset=".87" stop-opacity=".03"/><stop offset=".889" stop-opacity="0"/><stop offset="1" stop-opacity="0"/></linearGradient>
<rect x="635.60" y="223.40" width="10.8" height="93.60" fill="url(#L2_12)" opacity="1" filter="url(#lane3)"/>
<linearGradient id="L2_13" gradientUnits="userSpaceOnUse" x1="0" y1="226.4" x2="0" y2="314.0"><stop offset="0" stop-opacity=".03"/><stop offset=".13" stop-opacity=".07"/><stop offset=".167" stop-opacity=".1"/><stop offset=".241" stop-opacity=".23"/><stop offset=".278" stop-opacity=".3"/><stop offset=".315" stop-opacity=".33"/><stop offset=".333" stop-opacity=".23"/><stop offset=".37" stop-opacity=".18"/><stop offset=".444" stop-opacity=".05"/><stop offset=".5" stop-opacity="0"/><stop offset=".593" stop-opacity="0"/><stop offset=".648" stop-opacity=".07"/><stop offset=".667" stop-opacity=".13"/><stop offset=".722" stop-opacity=".4"/><stop offset=".741" stop-opacity=".46"/><stop offset=".759" stop-opacity=".48"/><stop offset=".778" stop-opacity=".43"/><stop offset=".833" stop-opacity=".12"/><stop offset=".852" stop-opacity=".06"/><stop offset=".889" stop-opacity="0"/><stop offset="1" stop-opacity="0"/></linearGradient>
<rect x="652.10" y="223.40" width="10.8" height="93.60" fill="url(#L2_13)" opacity="1" filter="url(#lane3)"/>
</g>
<rect x="444.6" y="226.4" width="224.60" height="87.60" fill="none" stroke="#000" stroke-width="1.45"/>
<line x1="438.60" y1="243.3" x2="444.6" y2="243.3" stroke="#000" stroke-width="1.45"/>
<text x="438.00" y="247.0" font-size="13.1" text-anchor="end">480</text>
<line x1="438.60" y1="271.2" x2="444.6" y2="271.2" stroke="#000" stroke-width="1.45"/>
<text x="438.00" y="274.9" font-size="13.1" text-anchor="end">242</text>
<line x1="438.60" y1="304.6" x2="444.6" y2="304.6" stroke="#000" stroke-width="1.45"/>
<text x="438.00" y="308.3" font-size="13.1" text-anchor="end">66</text>
<text x="409.6" y="274.8" font-size="15.6" text-anchor="end">GTAp63α</text>
<text x="672.6" y="257.8" font-size="14.3">D</text>
<text x="672.5" y="295.3" font-size="14.3">M</text>
</svg>
</body></html>
